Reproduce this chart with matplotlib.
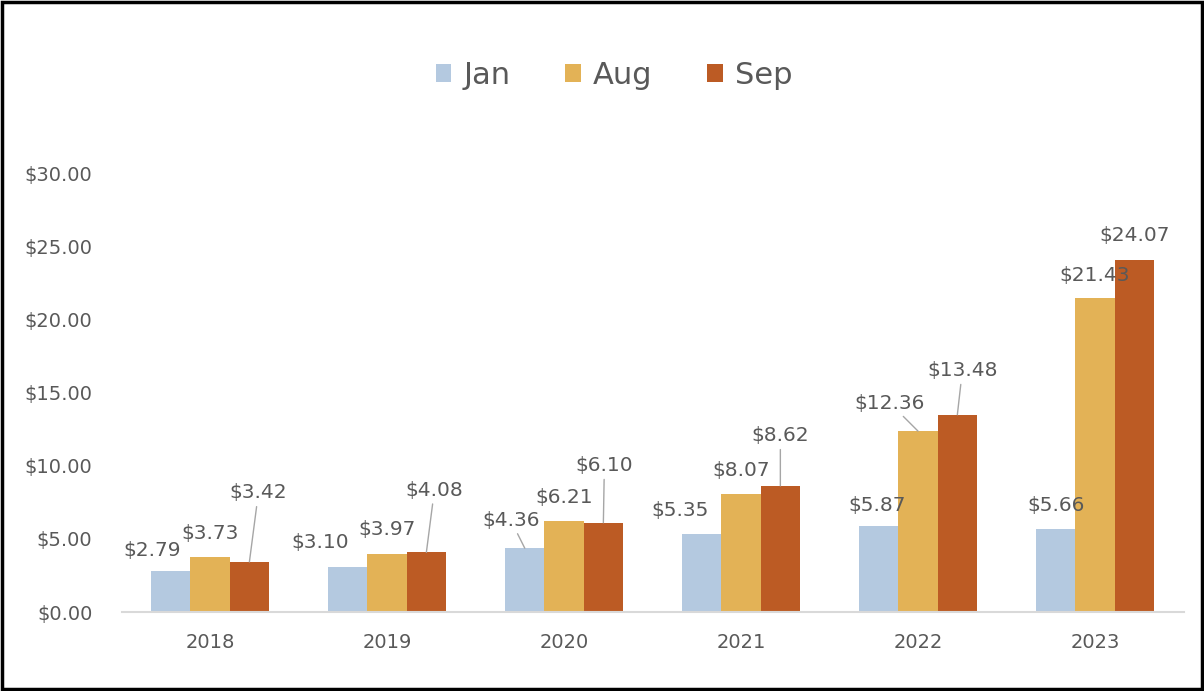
import numpy as np
import matplotlib.pyplot as plt
from matplotlib.patches import Rectangle
from matplotlib.ticker import FuncFormatter

plt.rcParams.update({
    "font.family": ["DejaVu Sans"],
    "font.size": 14,
})

years = ["2018", "2019", "2020", "2021", "2022", "2023"]
jan = [2.79, 3.10, 4.36, 5.35, 5.87, 5.66]
aug = [3.73, 3.97, 6.21, 8.07, 12.36, 21.43]
sep = [3.42, 4.08, 6.10, 8.62, 13.48, 24.07]

series = {"Jan": jan, "Aug": aug, "Sep": sep}
colors = {"Jan": "#B4C9E0", "Aug": "#E3B256", "Sep": "#BC5B24"}

# label offsets in pixels from the top centre of each bar, and leader flags
label_offsets = {
    "Jan": [(-19, 21), (-28, 24), (-14, 28), (-22, 23), (-2, 21), (0, 24)],
    "Aug": [(0, 24), (0, 24), (0, 24), (0, 23), (-28, 28), (0, 23)],
    "Sep": [(9, 69), (8, 62), (1, 57), (0, 50), (5, 44), (0, 24)],
}
leaders = {
    "Jan": [False, False, True, False, False, False],
    "Aug": [False, False, False, False, True, False],
    "Sep": [True, True, True, True, True, False],
}

text_color = "#595959"

fig = plt.figure(figsize=(12.04, 6.91), dpi=100)
ax = fig.add_axes([0.101, 0.1143, 0.882, 0.6353])

x = np.arange(len(years))
width = 0.222
for i, (name, vals) in enumerate(series.items()):
    pos = x + (i - 1) * width
    ax.bar(pos, vals, width, color=colors[name], label=name)
    for j, v in enumerate(vals):
        dx, dy = label_offsets[name][j]
        arrow = None
        if leaders[name][j]:
            arrow = dict(arrowstyle="-", color="#A6A6A6", lw=1, shrinkA=1, shrinkB=0)
        ax.annotate(f"${v:.2f}", (pos[j], v), xytext=(dx, dy),
                    textcoords="offset pixels", ha="center", va="center",
                    color=text_color, fontsize=14.5, arrowprops=arrow)

ax.set_xlim(-0.5, len(years) - 0.5)
ax.set_ylim(0, 30)
ax.set_yticks(np.arange(0, 31, 5))
ax.yaxis.set_major_formatter(FuncFormatter(lambda v, p: f"${v:.2f}"))
ax.set_xticks(x)
ax.set_xticklabels(years)
ax.tick_params(axis="y", length=0, pad=21, colors=text_color, labelsize=14)
ax.tick_params(axis="x", length=0, pad=15, colors=text_color, labelsize=14)

for s in ["top", "right", "left"]:
    ax.spines[s].set_visible(False)
ax.spines["bottom"].set_color("#D9D9D9")
ax.spines["bottom"].set_linewidth(1.5)

leg = ax.legend(loc="center", bbox_to_anchor=(0.51, 0.891), bbox_transform=fig.transFigure,
                ncol=3, frameon=False, fontsize=22, handlelength=0.5, handleheight=0.5,
                handletextpad=0.4, columnspacing=1.8)
for t in leg.get_texts():
    t.set_color(text_color)

fig.patches.append(Rectangle((0.0015, 0.0025), 0.997, 0.995, transform=fig.transFigure,
                             fill=False, edgecolor="black", linewidth=2.5))

plt.savefig("out.png", dpi=100)
